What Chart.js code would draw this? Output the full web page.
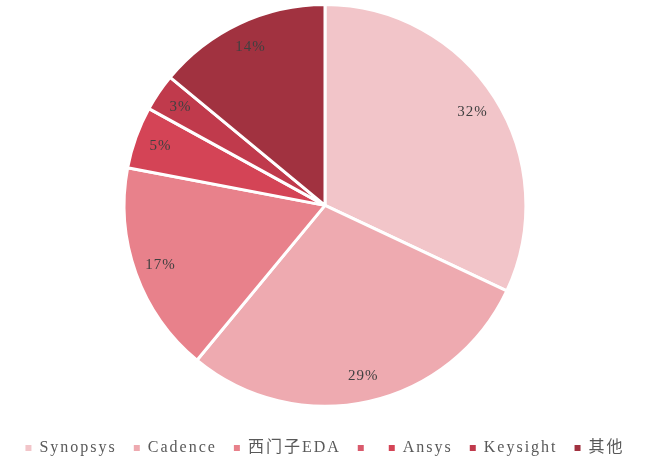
<!DOCTYPE html>
<html>
<head>
<meta charset="utf-8">
<script src="https://cdn.jsdelivr.net/npm/chart.js@4.4.0/dist/chart.umd.min.js"></script>
<style>
  html, body { margin: 0; padding: 0; background: #fff; }
  #wrap { width: 658px; height: 466px; }
</style>
</head>
<body>
<div id="wrap"><canvas id="pieChart"></canvas></div>
<script>
var labels = ["Synopsys", "Cadence", "西门子EDA", "", "Ansys", "Keysight", "其他"];
var shares = [32, 29, 17, 0, 5, 3, 14];
var colors = ["#f2c5c9", "#eeaab0", "#e8818b", "#d95a6c", "#d44456", "#c03a4c", "#a13240"];

var FONT = '"Liberation Serif", "Noto Sans CJK SC", serif';

// canvas letter spacing (gets reset whenever the canvas resizes)
var spacing = {
  id: 'spacing',
  beforeLayout: function (chart) { chart.ctx.letterSpacing = '2px'; },
  beforeDraw: function (chart) { chart.ctx.letterSpacing = '2px'; }
};

var pctLabels = {
  id: 'pctLabels',
  afterDatasetsDraw: function (chart) {
    var ctx = chart.ctx;
    var meta = chart.getDatasetMeta(0);
    ctx.save();
    ctx.letterSpacing = '1px';
    ctx.font = '15px ' + FONT;
    ctx.fillStyle = '#404040';
    ctx.textAlign = 'center';
    ctx.textBaseline = 'middle';
    meta.data.forEach(function (arc, i) {
      if (!shares[i]) return;
      var a = (arc.startAngle + arc.endAngle) / 2;
      var r = arc.outerRadius * 0.87;
      ctx.fillText(shares[i] + '%', arc.x + Math.cos(a) * r, arc.y + Math.sin(a) * r);
    });
    ctx.restore();
  }
};

var ctxP = document.getElementById("pieChart").getContext('2d');
var myPie = new Chart(ctxP, {
  type: 'pie',
  data: {
    labels: labels,
    datasets: [{
      data: shares,
      backgroundColor: colors,
      borderColor: '#ffffff',
      borderWidth: 3
    }]
  },
  options: {
    responsive: true,
    maintainAspectRatio: false,
    animation: false,
    layout: { padding: { top: 3, right: 8, bottom: 0 } },
    plugins: {
      tooltip: { enabled: false },
      legend: {
        position: 'bottom',
        // blank title = extra gap between pie and legend row
        title: { display: true, text: ' ', font: { size: 1 }, padding: { top: 0, bottom: 14 } },
        labels: {
          boxWidth: 6,
          boxHeight: 6,
          padding: 17,
          color: '#595959',
          font: { family: FONT, size: 16 },
          generateLabels: function (chart) {
            var items = Chart.overrides.pie.plugins.legend.labels.generateLabels(chart);
            items.forEach(function (it) { it.lineWidth = 0; it.hidden = false; });
            return items;
          }
        }
      }
    }
  },
  plugins: [spacing, pctLabels]
});
</script>
</body>
</html>
